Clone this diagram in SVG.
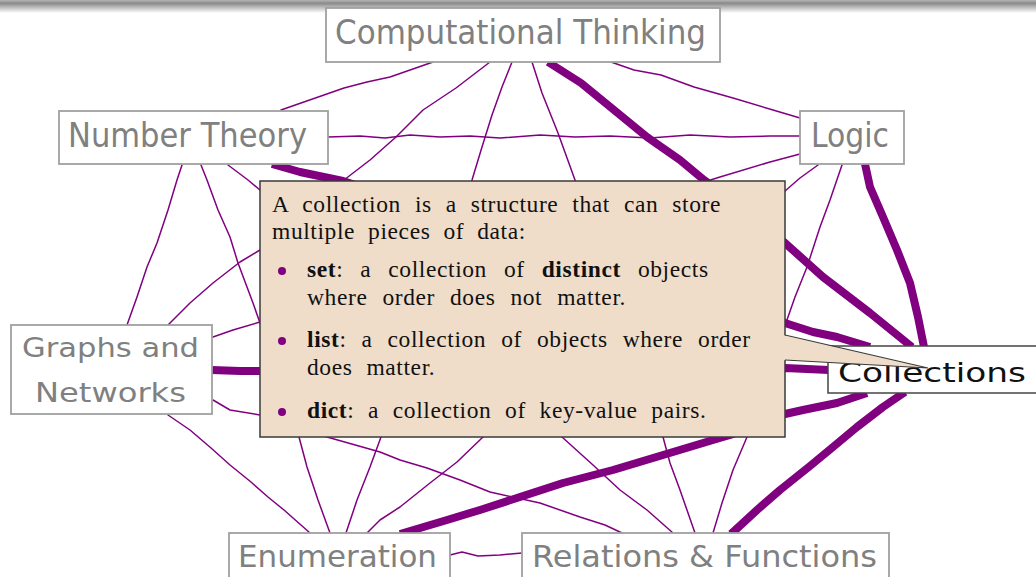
<svg xmlns="http://www.w3.org/2000/svg" width="1036" height="577" viewBox="0 0 1036 577">
<defs>
<linearGradient id="topbar" x1="0" y1="0" x2="0" y2="1">
<stop offset="0" stop-color="#b4b4b4"/>
<stop offset="0.25" stop-color="#8a8a8a"/>
<stop offset="1" stop-color="#ffffff"/>
</linearGradient>
<style>
.thin{fill:none;stroke:#800080;stroke-width:1.5;stroke-linejoin:round;stroke-linecap:round}
.thick{fill:none;stroke:#800080;stroke-width:8;stroke-linejoin:round}
.box{fill:#ffffff;stroke:#a0a0a0;stroke-width:1.8}
.lbl{font-family:"DejaVu Sans","Liberation Sans",sans-serif;fill:#808080}
.ct{font-family:"Liberation Serif","DejaVu Serif",serif;font-size:23.5px;fill:#111;letter-spacing:0.6px}
.b{font-weight:bold}
.dot{fill:#800080}
</style>
</defs>
<rect x="0" y="0" width="1036" height="13" fill="url(#topbar)"/>
<g id="connectors">
<path class="thin" d="M433,62 L390,77 L367,82 L344,88 L324,95 L301,103 L281,110"/>
<path class="thin" d="M611,62 L634,70 L661,75 L694,87 L733,98 L773,110 L800,118"/>
<path class="thin" d="M490,62 L456,88 L423,110 L396,137 L370,160 L344,180 L260,250 L240,262 L213,283 L190,303 L168,325"/>
<path class="thin" d="M512,62 L502,87 L492,115 L482,147 L472,180 L381,437 L370,467 L357,500 L346,533"/>
<path class="thin" d="M532,62 L542,93 L558,133 L575,180 L663,437 L670,463 L680,490 L695,533"/>
<path class="thin" d="M328,137 L360,136 L385,138 L410,135 L440,137 L470,136 L500,138 L540,135 L575,137 L610,136 L650,138 L690,135 L730,137 L770,136 L800,136"/>
<path class="thin" d="M182,165 L177,180 L168,210 L157,243 L147,267 L137,297 L127,325"/>
<path class="thin" d="M201,165 L207,180 L218,210 L230,237 L238,263 L253,303 L260,323 L299,437 L307,467 L318,500 L330,533"/>
<path class="thin" d="M228,165 L248,180 L260,190 L562,437 L593,465 L620,490 L647,510 L673,533"/>
<path class="thin" d="M800,154 L770,162 L720,177 L260,322 L233,330 L213,337"/>
<path class="thin" d="M818,165 L800,178 L785,191 L483,437 L457,462 L430,483 L400,507 L380,520 L367,533"/>
<path class="thin" d="M842,165 L830,200 L820,227 L807,267 L795,297 L788,317 L747,437 L733,470 L722,503 L713,533"/>
<path class="thin" d="M168,415 L190,430 L211,448 L230,465 L251,482 L268,497 L284,510 L310,533"/>
<path class="thin" d="M213,400 L230,410 L260,415 L327,437 L380,452 L400,460 L427,468 L460,480 L490,492 L540,503 L580,517 L605,525 L622,533"/>
<path class="thin" d="M450,555 L462,552 L478,556 L500,555 L522,553"/>
<path class="thick" d="M548,62 L581,83 L614,110 L647,137 L680,160 L704,180 L785,243 L823,277 L870,313 L912,347"/>
<path class="thick" d="M865,164 L870,187 L883,217 L897,250 L910,283 L918,317 L924,347"/>
<path class="thick" d="M272,164 L300,172 L343,181 L785,323 L813,332 L837,337 L870,347"/>
<path class="thick" d="M212,370 L240,371 L260,371 L785,368 L829,370"/>
<path class="thick" d="M400,534 L447,520 L480,510 L520,497 L563,483 L613,470 L663,455 L713,440 L730,435 L785,414 L803,410 L837,403 L867,393"/>
<path class="thick" d="M731,534 L757,510 L780,490 L810,466 L833,447 L857,427 L883,407 L905,392"/>
</g>
<g id="node-ct">
<rect class="box" x="326" y="8" width="394" height="54"/>
<text class="lbl" x="335" y="44" font-size="33" textLength="371" lengthAdjust="spacingAndGlyphs">Computational Thinking</text>
</g>
<g id="node-nt">
<rect class="box" x="59" y="111" width="269" height="53"/>
<text class="lbl" x="68" y="147" font-size="33" textLength="239" lengthAdjust="spacingAndGlyphs">Number Theory</text>
</g>
<g id="node-logic">
<rect class="box" x="800" y="111" width="104" height="53"/>
<text class="lbl" x="811" y="147" font-size="33" textLength="78" lengthAdjust="spacingAndGlyphs">Logic</text>
</g>
<g id="node-gn">
<rect class="box" x="11" y="325" width="201" height="89"/>
<text class="lbl" x="22" y="357" font-size="26" textLength="177" lengthAdjust="spacingAndGlyphs">Graphs and</text>
<text class="lbl" x="35" y="402" font-size="26" textLength="151" lengthAdjust="spacingAndGlyphs">Networks</text>
</g>
<g id="node-enum">
<rect class="box" x="229" y="533" width="221" height="52"/>
<text class="lbl" x="238" y="567" font-size="31" textLength="199" lengthAdjust="spacingAndGlyphs">Enumeration</text>
</g>
<g id="node-rf">
<rect class="box" x="522" y="533" width="367" height="52"/>
<text class="lbl" x="532" y="567" font-size="31" textLength="345" lengthAdjust="spacingAndGlyphs">Relations &amp; Functions</text>
</g>
<g id="node-coll">
<rect x="828" y="346" width="215" height="47" fill="#ffffff" stroke="#444" stroke-width="1.5"/>
<text class="lbl" x="838" y="382" font-size="26" style="fill:#111" textLength="188" lengthAdjust="spacingAndGlyphs">Collections</text>
</g>
<g id="callout">
<rect x="260" y="181" width="525" height="256" fill="#efddca" stroke="#3a3a3a" stroke-width="1.5"/>
<polygon points="783,335 928,368 783,360" fill="#efddca"/>
<polyline points="785,335 928,368 785,360" fill="none" stroke="#3a3a3a" stroke-width="1.2"/>
<text class="ct" x="272" y="211.5" word-spacing="7.5">A collection is a structure that can store</text>
<text class="ct" x="272" y="239" word-spacing="6.5">multiple pieces of data:</text>
<circle class="dot" cx="282" cy="271" r="4"/>
<text class="ct" x="307" y="277" word-spacing="10.5"><tspan class="b">set</tspan>: a collection of <tspan class="b">distinct</tspan> objects</text>
<text class="ct" x="307" y="305" word-spacing="8.5">where order does not matter.</text>
<circle class="dot" cx="282" cy="341" r="4"/>
<text class="ct" x="307" y="347" word-spacing="8.5"><tspan class="b">list</tspan>: a collection of objects where order</text>
<text class="ct" x="307" y="375" word-spacing="7.5">does matter.</text>
<circle class="dot" cx="282" cy="412" r="4"/>
<text class="ct" x="307" y="418" word-spacing="7.2"><tspan class="b">dict</tspan>: a collection of key-value pairs.</text>
</g>
</svg>
